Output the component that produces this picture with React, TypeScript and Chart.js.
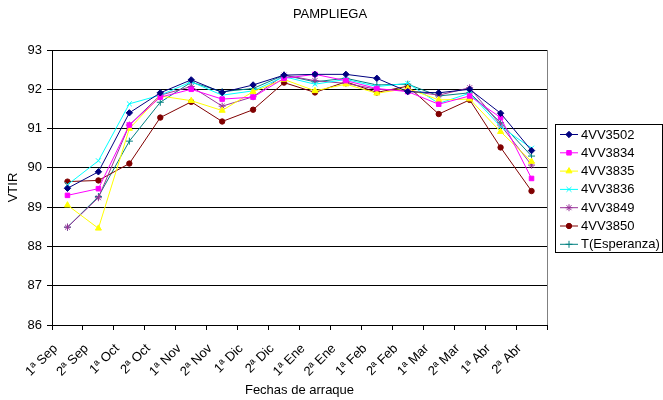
import React, { useEffect, useRef } from "react";
import { Chart, registerables } from "chart.js";
import { drawPoint } from "chart.js/helpers";

Chart.register(...registerables);

const categories = [
  "1ª Sep", "2ª Sep", "1ª Oct", "2ª Oct", "1ª Nov", "2ª Nov", "1ª Dic", "2ª Dic",
  "1ª Ene", "2ª Ene", "1ª Feb", "2ª Feb", "1ª Mar", "2ª Mar", "1ª Abr", "2ª Abr",
];

const v3502 = [89.48, 89.9, 91.4, 91.91, 92.24, 91.92, 92.11, 92.36, 92.38, 92.38, 92.28, 91.94, 91.91, 92.0, 91.39, 90.44];
const v3834 = [89.3, 89.47, 91.09, 91.8, 92.0, 91.75, 91.8, 92.28, 92.38, 92.22, 92.02, 91.94, 91.62, 91.83, 91.28, 89.73];
const v3835 = [89.05, 88.46, 91.0, 91.83, 91.71, 91.46, 91.94, 92.25, 91.96, 92.13, 91.9, 92.02, 91.73, 91.75, 90.92, 90.16];
const v3836 = [89.57, 90.18, 91.63, 91.85, 92.19, 91.85, 91.96, 92.32, 92.13, 92.25, 92.07, 92.15, 91.64, 91.9, 91.05, 90.5];
const v3849 = [88.49, 89.24, 91.09, 91.85, 92.07, 91.57, 91.81, 92.36, 92.22, 92.15, 92.0, 91.96, 91.85, 92.04, 91.09, 90.07];
const v3850 = [89.65, 89.68, 90.11, 91.28, 91.68, 91.18, 91.48, 92.17, 91.92, 92.19, 91.92, 92.08, 91.37, 91.73, 90.52, 89.41];
const vEsperanza = [88.49, 89.27, 90.68, 91.67, 92.18, 91.94, 92.02, 92.36, 92.19, 92.28, 92.11, 92.13, 91.83, 91.91, 91.15, 90.3];

const FONT = "'Liberation Sans', Arial, sans-serif";

type Series = { label: string; data: number[]; color: string; style: string; radius: number };

const seriesList: Series[] = [
  { label: "4VV3502", data: v3502, color: "#000080", style: "rectRot", radius: 3.2 },
  { label: "4VV3834", data: v3834, color: "#FF00FF", style: "rect", radius: 3.2 },
  { label: "4VV3835", data: v3835, color: "#FFFF00", style: "triangle", radius: 3.5 },
  { label: "4VV3836", data: v3836, color: "#00FFFF", style: "crossRot", radius: 3.5 },
  { label: "4VV3849", data: v3849, color: "#993399", style: "star", radius: 3.5 },
  { label: "4VV3850", data: v3850, color: "#800000", style: "circle", radius: 2.7 },
  { label: "T(Esperanza)", data: vEsperanza, color: "#008080", style: "cross", radius: 3.5 },
];

// Title, plot frame and boxed legend drawn on top of the chart
const decorations = {
  id: "decorations",
  afterDraw(chart: any) {
    const ctx = chart.ctx;
    const area = chart.chartArea;
    ctx.save();

    // right edge of the plot frame
    ctx.strokeStyle = "#808080";
    ctx.lineWidth = 1;
    ctx.beginPath();
    ctx.moveTo(Math.round(area.right) + 0.5, area.top);
    ctx.lineTo(Math.round(area.right) + 0.5, area.bottom);
    ctx.stroke();

    // chart title
    ctx.fillStyle = "#000";
    ctx.font = `13px ${FONT}`;
    ctx.textAlign = "center";
    ctx.textBaseline = "middle";
    ctx.fillText("PAMPLIEGA", 330, 14);

    // legend box
    const bx = 555.5, by = 124.5, bw = 107, bh = 128;
    ctx.strokeStyle = "#000";
    ctx.strokeRect(bx, by, bw, bh);
    ctx.textAlign = "left";
    seriesList.forEach((s, i) => {
      const y = 134.5 + i * 18.3;
      ctx.strokeStyle = s.color;
      ctx.lineWidth = 1;
      ctx.beginPath();
      ctx.moveTo(560, y);
      ctx.lineTo(578, y);
      ctx.stroke();
      ctx.fillStyle = s.color;
      drawPoint(ctx, { pointStyle: s.style, radius: s.radius, borderWidth: 1, rotation: 0 }, 569, y);
      ctx.fillStyle = "#000";
      ctx.fillText(s.label, 581, y + 0.5);
    });
    ctx.restore();
  },
};

export default function App() {
  const canvasRef = useRef<HTMLCanvasElement | null>(null);

  useEffect(() => {
    if (!canvasRef.current) return;
    const chart = new Chart(canvasRef.current, {
      type: "line",
      data: {
        labels: categories,
        datasets: seriesList.map((s) => ({
          label: s.label,
          data: s.data,
          borderColor: s.color,
          backgroundColor: s.color,
          pointBackgroundColor: s.color,
          pointBorderColor: s.color,
          pointStyle: s.style as any,
          pointRadius: s.radius,
          pointBorderWidth: 1,
          borderWidth: 1,
          tension: 0,
          fill: false,
        })),
      },
      options: {
        responsive: false,
        animation: false,
        devicePixelRatio: 1,
        layout: { padding: { left: 0, right: 116, top: 50, bottom: 0 } },
        plugins: {
          legend: { display: false },
          title: { display: false },
          tooltip: { enabled: false },
        },
        scales: {
          x: {
            offset: true,
            grid: { offset: true, drawOnChartArea: false, drawTicks: true, tickLength: 5, color: "#000" },
            border: { color: "#000" },
            ticks: {
              minRotation: 45,
              maxRotation: 45,
              autoSkip: false,
              padding: 11,
              labelOffset: -12,
              color: "#000",
              font: { family: FONT, size: 13 },
            },
            title: {
              display: true,
              text: "Fechas de arraque",
              color: "#000",
              font: { family: FONT, size: 13 },
              padding: { top: 0, bottom: 2.2 },
            },
            afterFit(scale: any) {
              scale.height = 75;
            },
          },
          y: {
            min: 86,
            max: 93,
            ticks: { stepSize: 1, padding: 5, color: "#000", font: { family: FONT, size: 13 } },
            grid: { color: "#000", tickLength: 5 },
            border: { color: "#000" },
            title: {
              display: true,
              text: "VTIR",
              color: "#000",
              font: { family: FONT, size: 13 },
              padding: { top: 5.5, bottom: 0 },
            },
            afterFit(scale: any) {
              scale.width = 52;
            },
          },
        },
      },
      plugins: [decorations],
    });
    return () => chart.destroy();
  }, []);

  return (
    <div style={{ position: "absolute", left: 0, top: 0, width: 663, height: 400, background: "#fff" }}>
      <canvas ref={canvasRef} width={663} height={400} />
    </div>
  );
}
